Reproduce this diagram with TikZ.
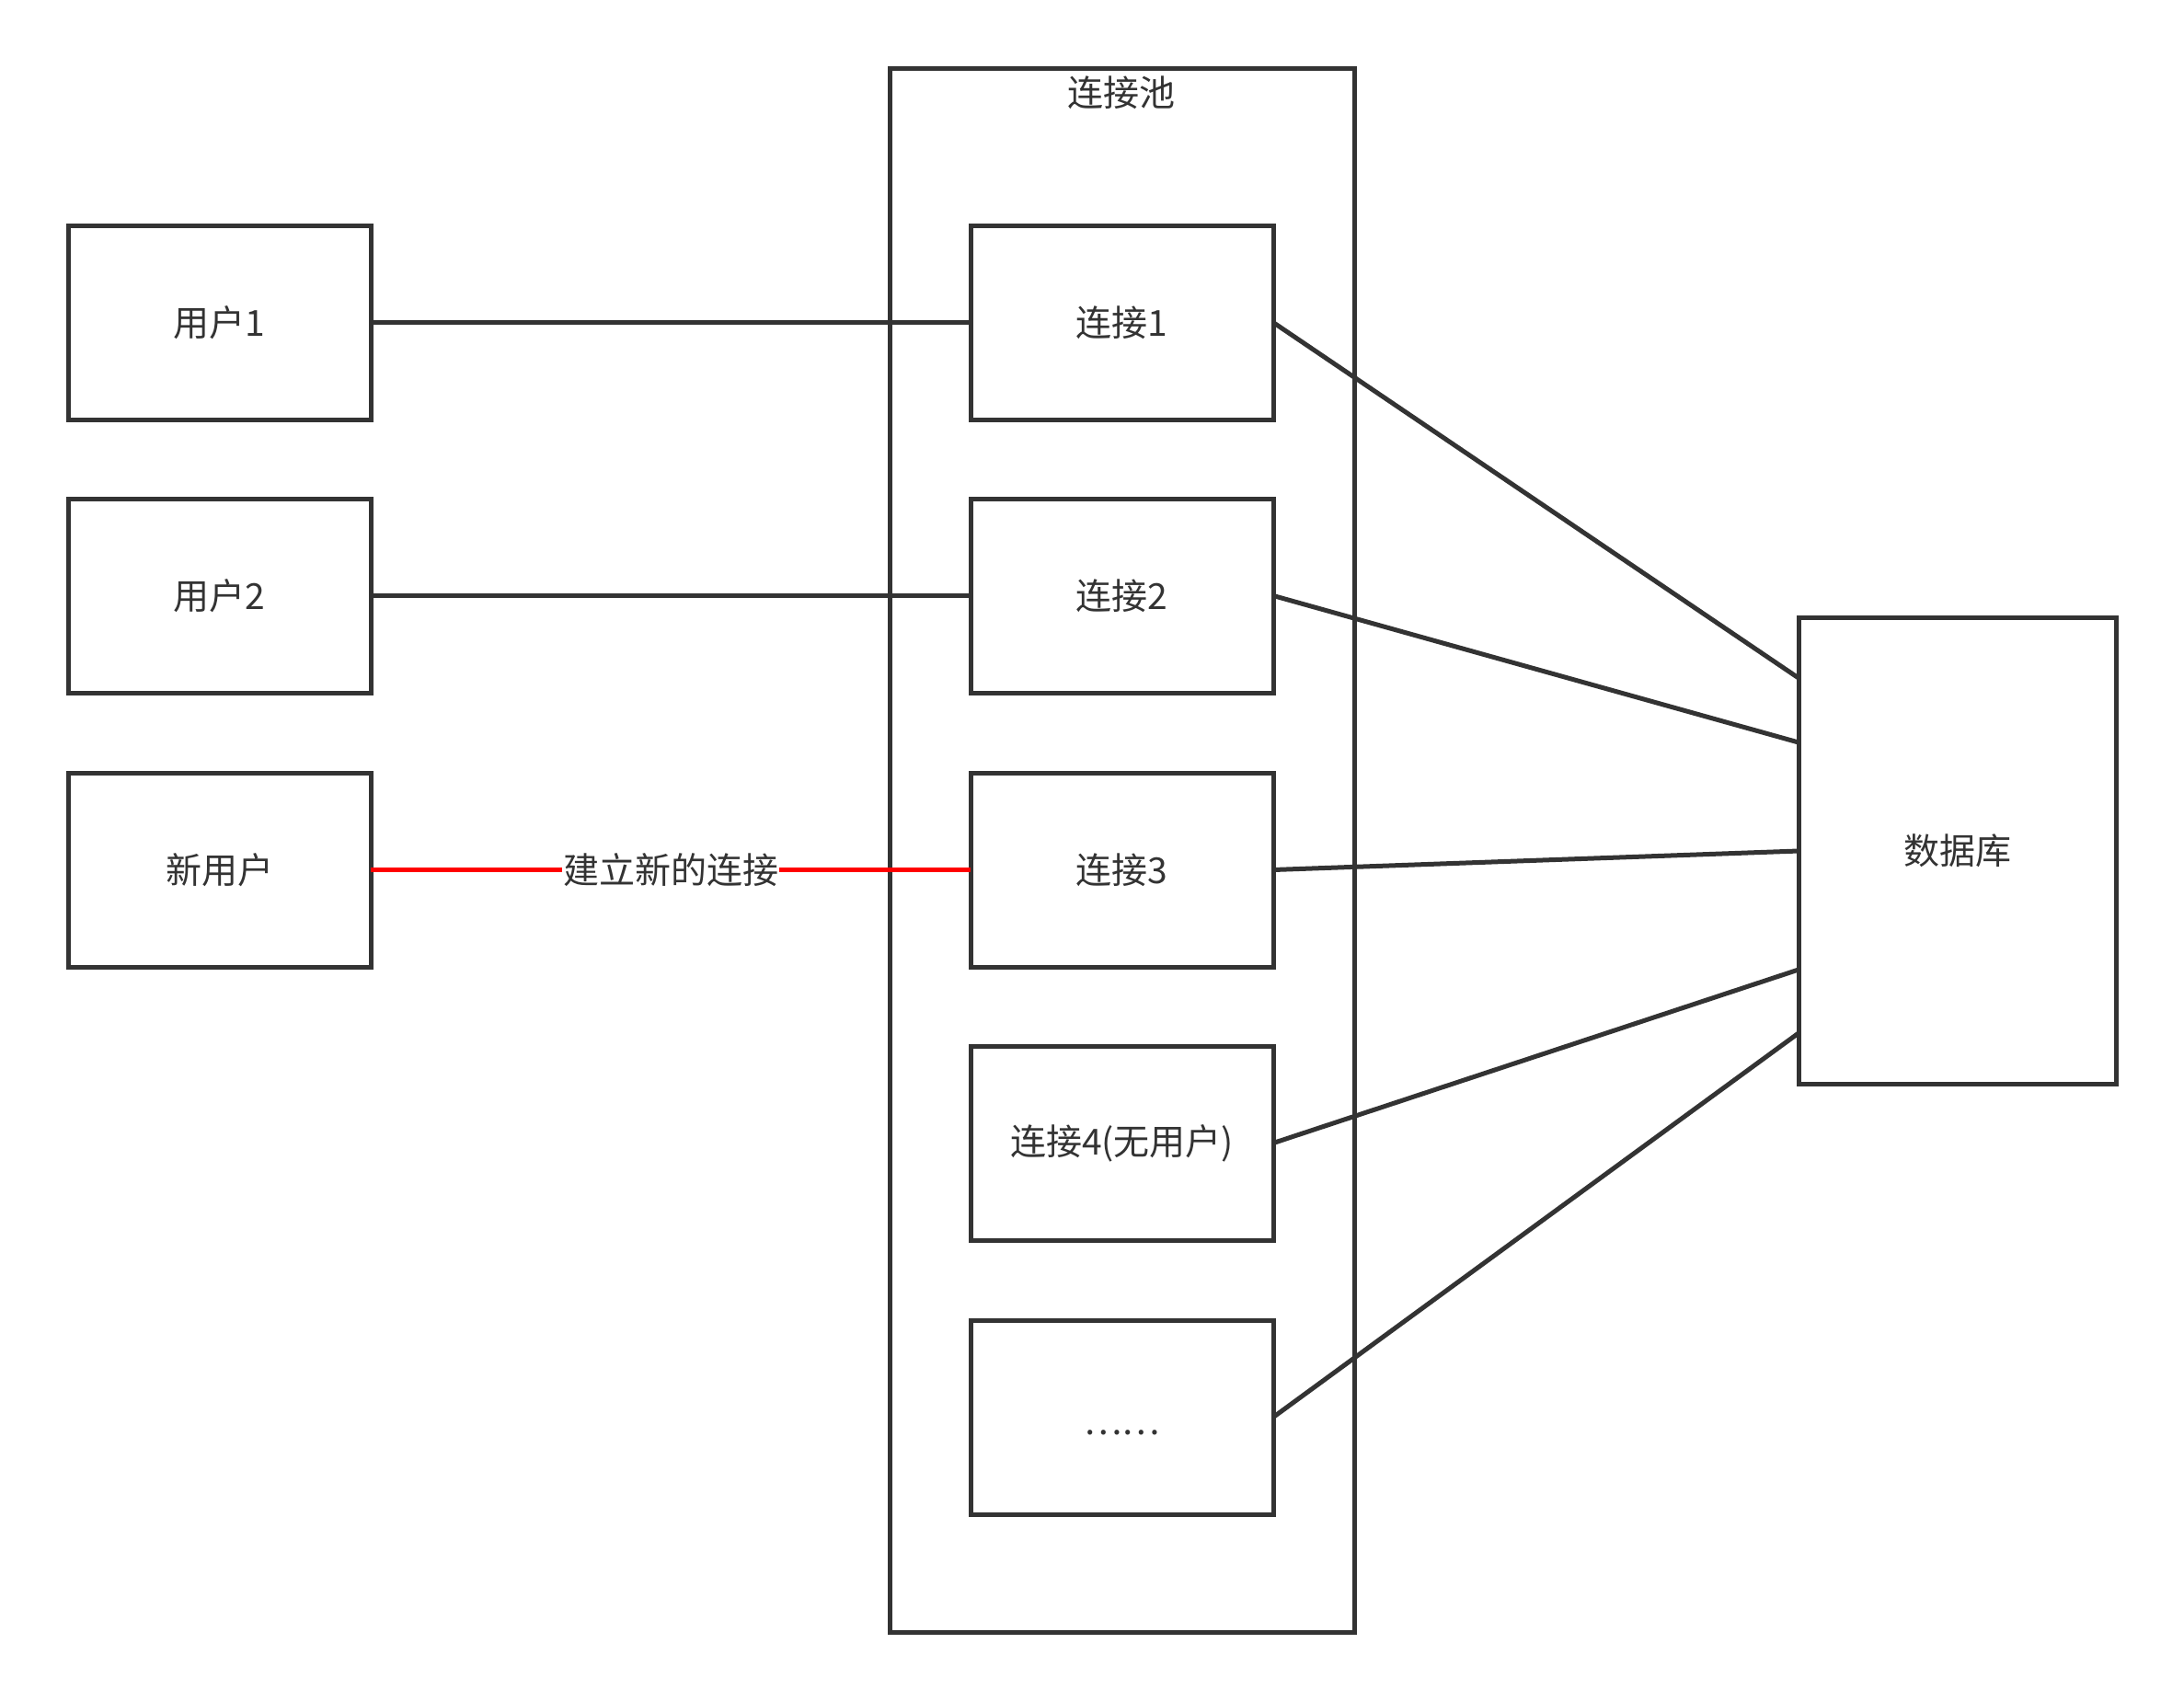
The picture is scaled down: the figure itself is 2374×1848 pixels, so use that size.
\documentclass[tikz,border=0pt]{standalone}
\usepackage{fontspec}
\setmainfont{Noto Sans CJK SC}
\definecolor{ink}{HTML}{333333}
\begin{document}
\begin{tikzpicture}[x=1pt,y=-1pt,
  box/.style={draw=ink,line width=5pt,fill=white,minimum width=329pt,minimum height=211pt,inner sep=0pt,outer sep=0pt,anchor=north west,text=ink,font=\fontsize{39}{44}\selectfont},
  link/.style={draw=ink,line width=5pt},
  newlink/.style={draw=red,line width=5pt}]
\useasboundingbox (0,0) rectangle (2374,1848);
\fill[white] (0,0) rectangle (2374,1848);
% pool
\node[box,minimum width=505pt,minimum height=1700pt] (pool) at (967,74) {};
\node[text=ink,font=\fontsize{39}{44}\selectfont,anchor=center] (poollabel) at (1219,101) {连接池};
% users
\node[box] (u1) at (74,245) {用户1};
\node[box] (u2) at (74,542) {用户2};
\node[box] (u3) at (74,840) {新用户};
% database
\node[box,minimum width=345pt,minimum height=507pt] (db) at (1955,671) {数据库};
% connection coordinates on db
\coordinate (d1) at (1955,737);
\coordinate (d2) at (1955,807);
\coordinate (d3) at (1955,925);
\coordinate (d4) at (1955,1054);
\coordinate (d5) at (1955,1123);
% connections
\node[box] (c1) at (1055,245) {连接1};
\node[box] (c2) at (1055,542) {连接2};
\node[box] (c3) at (1055,840) {连接3};
\node[box] (c4) at (1055,1137) {连接4(无用户)};
\node[box] (c5) at (1055,1435) {\raisebox{-19pt}[0pt][0pt]{……}};
% links
\draw[link] (u1.east) -- (c1.west);
\draw[link] (u2.east) -- (c2.west);
\draw[newlink] (u3.east) -- node[fill=white,inner sep=1pt,text=ink,font=\fontsize{39}{44}\selectfont] (lbl) {建立新的连接} (c3.west);
\draw[link] (c1.east) -- (d1);
\draw[link] (c2.east) -- (d2);
\draw[link] (c3.east) -- (d3);
\draw[link] (c4.east) -- (d4);
\draw[link] (c5.east) -- (d5);
\end{tikzpicture}
\end{document}
